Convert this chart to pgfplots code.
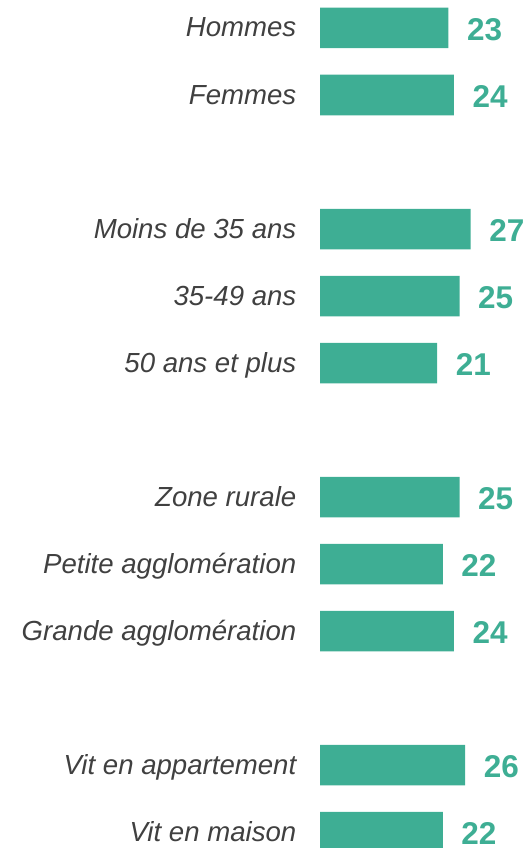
\documentclass[border=0pt]{standalone}
\usepackage{pgfplots}
\pgfplotsset{compat=1.18}
\usepackage{fontspec}
\setmainfont{Liberation Sans}
\definecolor{barc}{HTML}{3EAE94}
\definecolor{labc}{HTML}{404040}
\begin{document}
\begin{tikzpicture}
\useasboundingbox (0,0) rectangle (530pt,848pt);
\begin{axis}[
  at={(320pt,0pt)}, anchor=south west,
  scale only axis, width=210pt, height=848pt,
  xmin=0, xmax=37.634,
  y dir=reverse, ymin=-0.41791, ymax=12.2388,
  axis line style={draw=none},
  major tick length=0pt,
  xtick=\empty,
  ytick={0,1,3,4,5,7,8,9,11,12},
  yticklabels={Hommes,Femmes,Moins de 35 ans,35-49 ans,50 ans et plus,Zone rurale,Petite agglomération,Grande agglomération,Vit en appartement,Vit en maison},
  yticklabel style={anchor=base east, inner sep=0pt, xshift=-23.5pt, yshift=-9pt, font=\fontsize{27.6}{27}\selectfont\itshape, text=labc},
  clip=false,
  xbar, bar width=40.5pt,
  point meta=x,
  nodes near coords,
  /pgf/number format/assume math mode=true,
  every node near coord/.append style={anchor=base west, inner sep=0pt, xshift=18.5pt, yshift=-12.2pt, font=\fontsize{31.5}{31}\selectfont\bfseries, text=barc},
]
\addplot[fill=barc, draw=none] coordinates {
(23,0) (24,1) (27,3) (25,4) (21,5) (25,7) (22,8) (24,9) (26,11) (22,12)
};
\end{axis}
\end{tikzpicture}
\end{document}
